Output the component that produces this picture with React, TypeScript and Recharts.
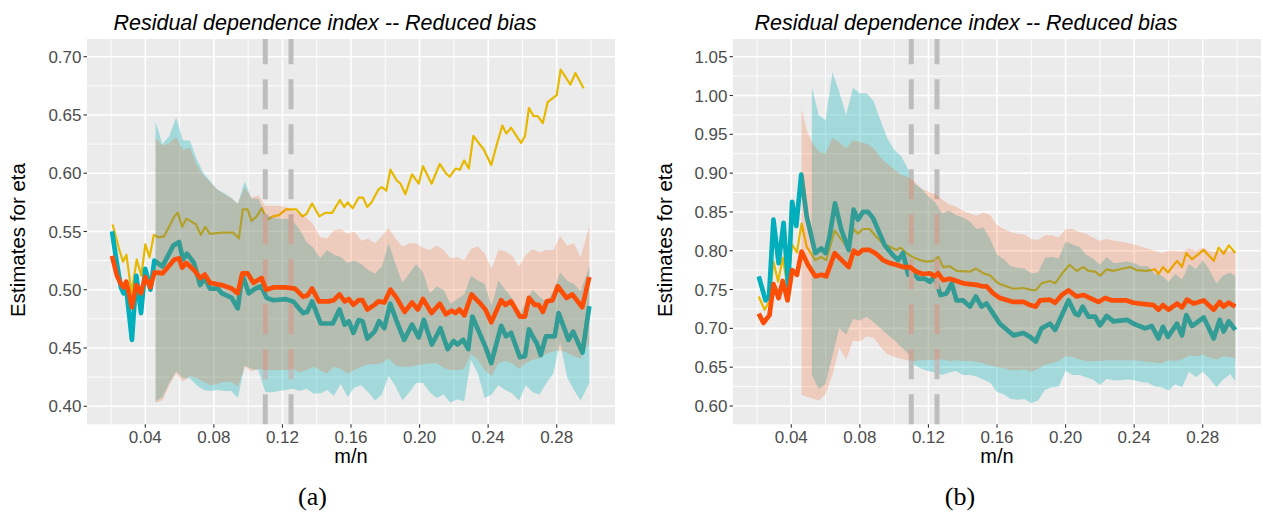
import { Area, CartesianGrid, ComposedChart, Line, ReferenceLine, XAxis, YAxis } from 'recharts';

const FONT = '"Liberation Sans", Arial, sans-serif';
const TITLE = 'Residual dependence index -- Reduced bias';

const X_MAJOR = [0.04, 0.08, 0.12, 0.16, 0.2, 0.24, 0.28];
const X_MINOR = [0.02, 0.06, 0.1, 0.14, 0.18, 0.22, 0.26, 0.3];
const A_Y_MAJOR = [0.4, 0.45, 0.5, 0.55, 0.6, 0.65, 0.7];
const A_Y_MINOR = [0.425, 0.475, 0.525, 0.575, 0.625, 0.675];
const B_Y_MAJOR = [0.6, 0.65, 0.7, 0.75, 0.8, 0.85, 0.9, 0.95, 1.0, 1.05];
const B_Y_MINOR = [0.625, 0.675, 0.725, 0.775, 0.825, 0.875, 0.925, 0.975, 1.025];
const CUTS = [0.11, 0.125];

// ---- panel (a) ----
const A_YEL_X = [0.021, 0.0245, 0.027, 0.029, 0.032, 0.035, 0.0377, 0.04, 0.0425, 0.045, 0.0476, 0.051, 0.057, 0.059, 0.0615, 0.064, 0.0696, 0.0724, 0.075, 0.0777, 0.0846, 0.0915, 0.0946, 0.0969, 0.0997, 0.102, 0.105, 0.108, 0.111, 0.1147, 0.118, 0.122, 0.128, 0.1316, 0.134, 0.1373, 0.1415, 0.145, 0.149, 0.1535, 0.156, 0.158, 0.161, 0.1644, 0.167, 0.1695, 0.172, 0.176, 0.178, 0.1806, 0.183, 0.1866, 0.1889, 0.1917, 0.1956, 0.1995, 0.202, 0.207, 0.2118, 0.2153, 0.2176, 0.221, 0.2235, 0.226, 0.2287, 0.2314, 0.2344, 0.2372, 0.2418, 0.2453, 0.2483, 0.2506, 0.2534, 0.2592, 0.2615, 0.2638, 0.2665, 0.269, 0.2719, 0.2747, 0.28, 0.2823, 0.288, 0.2909, 0.2957];
const A_YEL_Y = [0.556, 0.536, 0.524, 0.53, 0.497, 0.526, 0.512, 0.539, 0.528, 0.547, 0.545, 0.546, 0.563, 0.566, 0.554, 0.561, 0.556, 0.547, 0.554, 0.548, 0.549, 0.549, 0.544, 0.569, 0.569, 0.559, 0.563, 0.57, 0.56, 0.563, 0.564, 0.569, 0.569, 0.563, 0.565, 0.574, 0.563, 0.566, 0.566, 0.577, 0.571, 0.575, 0.57, 0.579, 0.579, 0.571, 0.575, 0.586, 0.588, 0.585, 0.603, 0.594, 0.591, 0.582, 0.599, 0.591, 0.606, 0.591, 0.608, 0.6, 0.597, 0.604, 0.603, 0.611, 0.604, 0.632, 0.626, 0.621, 0.607, 0.626, 0.641, 0.634, 0.639, 0.626, 0.632, 0.656, 0.649, 0.649, 0.643, 0.661, 0.667, 0.689, 0.676, 0.686, 0.673];

const A_TEAL_X = [0.0206, 0.0235, 0.0258, 0.0273, 0.0289, 0.0322, 0.0348, 0.0375, 0.04, 0.043, 0.0453, 0.05, 0.0564, 0.0597, 0.062, 0.0643, 0.0684, 0.072, 0.0747, 0.0777, 0.0823, 0.0846, 0.0904, 0.0939, 0.0966, 0.1003, 0.1042, 0.1077, 0.1108, 0.1147, 0.1216, 0.1262, 0.132, 0.1345, 0.1373, 0.1424, 0.1494, 0.1533, 0.1563, 0.1587, 0.1614, 0.1644, 0.1667, 0.1695, 0.1737, 0.1764, 0.1794, 0.1829, 0.1864, 0.191, 0.1956, 0.1995, 0.2025, 0.2072, 0.2122, 0.2164, 0.2198, 0.2221, 0.2254, 0.2284, 0.2308, 0.2349, 0.2384, 0.2418, 0.2476, 0.2504, 0.2534, 0.2585, 0.2615, 0.2638, 0.2667, 0.2684, 0.2707, 0.2737, 0.2788, 0.2811, 0.2869, 0.2896, 0.295, 0.299];
const A_TEAL_Y = [0.55, 0.522, 0.502, 0.497, 0.501, 0.457, 0.512, 0.48, 0.518, 0.5, 0.525, 0.52, 0.538, 0.541, 0.526, 0.531, 0.523, 0.504, 0.51, 0.501, 0.501, 0.497, 0.493, 0.484, 0.513, 0.497, 0.501, 0.503, 0.493, 0.491, 0.492, 0.49, 0.48, 0.481, 0.49, 0.471, 0.471, 0.483, 0.47, 0.473, 0.463, 0.474, 0.473, 0.458, 0.464, 0.473, 0.467, 0.488, 0.474, 0.457, 0.47, 0.459, 0.474, 0.453, 0.467, 0.449, 0.456, 0.453, 0.457, 0.449, 0.477, 0.463, 0.451, 0.437, 0.469, 0.46, 0.463, 0.442, 0.443, 0.466, 0.458, 0.454, 0.444, 0.46, 0.46, 0.48, 0.457, 0.464, 0.446, 0.486];

const A_ORANGE_X = [0.0206, 0.0235, 0.0258, 0.0273, 0.0289, 0.0322, 0.0348, 0.0375, 0.04, 0.043, 0.0453, 0.05, 0.0535, 0.057, 0.0597, 0.0615, 0.064, 0.0684, 0.072, 0.0747, 0.0777, 0.0846, 0.0904, 0.0939, 0.0966, 0.0997, 0.1031, 0.1078, 0.1105, 0.1147, 0.1216, 0.1274, 0.132, 0.1345, 0.1373, 0.1413, 0.147, 0.15, 0.1533, 0.1563, 0.1587, 0.1614, 0.1644, 0.1667, 0.1695, 0.1737, 0.176, 0.1794, 0.183, 0.1866, 0.1913, 0.1956, 0.199, 0.202, 0.207, 0.2118, 0.2153, 0.2187, 0.221, 0.2233, 0.2261, 0.2303, 0.2349, 0.2384, 0.2418, 0.2476, 0.25, 0.2534, 0.2585, 0.2615, 0.2638, 0.2672, 0.2695, 0.2719, 0.2742, 0.2776, 0.2806, 0.2857, 0.2891, 0.2949, 0.299];
const A_ORANGE_Y = [0.529, 0.512, 0.505, 0.502, 0.507, 0.485, 0.504, 0.497, 0.511, 0.502, 0.515, 0.514, 0.52, 0.526, 0.527, 0.519, 0.523, 0.517, 0.51, 0.513, 0.506, 0.504, 0.501, 0.497, 0.514, 0.514, 0.506, 0.51, 0.5, 0.502, 0.502, 0.501, 0.494, 0.495, 0.501, 0.49, 0.49, 0.491, 0.496, 0.49, 0.492, 0.487, 0.491, 0.491, 0.483, 0.487, 0.49, 0.489, 0.5, 0.493, 0.481, 0.489, 0.483, 0.492, 0.48, 0.488, 0.479, 0.482, 0.48, 0.483, 0.478, 0.496, 0.489, 0.483, 0.472, 0.491, 0.487, 0.49, 0.477, 0.477, 0.493, 0.487, 0.487, 0.481, 0.49, 0.491, 0.503, 0.493, 0.496, 0.485, 0.511];

const A_BAND_X = [0.046, 0.05, 0.054, 0.058, 0.062, 0.066, 0.07, 0.074, 0.078, 0.082, 0.086, 0.09, 0.094, 0.098, 0.102, 0.106, 0.11, 0.114, 0.118, 0.122, 0.126, 0.13, 0.134, 0.138, 0.142, 0.146, 0.15, 0.154, 0.158, 0.162, 0.166, 0.17, 0.174, 0.178, 0.182, 0.186, 0.19, 0.194, 0.198, 0.202, 0.206, 0.21, 0.214, 0.218, 0.222, 0.226, 0.23, 0.234, 0.238, 0.242, 0.246, 0.25, 0.254, 0.258, 0.262, 0.266, 0.27, 0.274, 0.278, 0.282, 0.286, 0.29, 0.294, 0.299];
const A_TEAL_HI = [0.644, 0.625, 0.632, 0.648, 0.628, 0.628, 0.612, 0.6, 0.593, 0.586, 0.583, 0.579, 0.574, 0.593, 0.578, 0.578, 0.565, 0.562, 0.561, 0.561, 0.559, 0.552, 0.541, 0.536, 0.527, 0.534, 0.53, 0.528, 0.523, 0.525, 0.522, 0.517, 0.514, 0.52, 0.54, 0.522, 0.506, 0.514, 0.522, 0.515, 0.497, 0.503, 0.5, 0.488, 0.492, 0.496, 0.512, 0.508, 0.505, 0.486, 0.508, 0.5, 0.493, 0.477, 0.49, 0.5, 0.494, 0.489, 0.499, 0.515, 0.508, 0.505, 0.499, 0.52];
const A_TEAL_LO = [0.404, 0.408, 0.42, 0.43, 0.424, 0.424, 0.418, 0.414, 0.413, 0.414, 0.413, 0.413, 0.407, 0.435, 0.432, 0.431, 0.412, 0.412, 0.413, 0.414, 0.415, 0.413, 0.415, 0.411, 0.411, 0.414, 0.409, 0.419, 0.408, 0.416, 0.418, 0.412, 0.405, 0.41, 0.426, 0.417, 0.405, 0.412, 0.42, 0.42, 0.412, 0.407, 0.41, 0.403, 0.406, 0.404, 0.44, 0.428, 0.407, 0.41, 0.418, 0.414, 0.411, 0.405, 0.418, 0.412, 0.41, 0.42, 0.428, 0.455, 0.425, 0.414, 0.405, 0.42];
const A_SAL_HI = [0.63, 0.624, 0.626, 0.631, 0.62, 0.622, 0.607, 0.598, 0.592, 0.586, 0.582, 0.579, 0.574, 0.588, 0.579, 0.581, 0.572, 0.572, 0.572, 0.571, 0.568, 0.565, 0.562, 0.556, 0.545, 0.544, 0.551, 0.552, 0.548, 0.55, 0.542, 0.544, 0.54, 0.546, 0.553, 0.544, 0.537, 0.54, 0.54, 0.536, 0.534, 0.538, 0.534, 0.527, 0.528, 0.525, 0.535, 0.537, 0.531, 0.518, 0.534, 0.533, 0.529, 0.52, 0.53, 0.535, 0.532, 0.534, 0.534, 0.546, 0.538, 0.54, 0.528, 0.555];
const A_SAL_LO = [0.403, 0.405, 0.418, 0.428, 0.421, 0.426, 0.424, 0.421, 0.418, 0.419, 0.421, 0.421, 0.417, 0.434, 0.43, 0.432, 0.431, 0.431, 0.431, 0.431, 0.432, 0.429, 0.431, 0.434, 0.431, 0.428, 0.434, 0.432, 0.428, 0.431, 0.434, 0.436, 0.436, 0.437, 0.441, 0.435, 0.434, 0.434, 0.435, 0.436, 0.437, 0.437, 0.433, 0.431, 0.431, 0.432, 0.445, 0.44, 0.431, 0.426, 0.437, 0.439, 0.437, 0.432, 0.437, 0.44, 0.441, 0.445, 0.447, 0.448, 0.446, 0.443, 0.441, 0.455];

// ---- panel (b) ----
const B_YEL_X = [0.021, 0.0244, 0.027, 0.0296, 0.0323, 0.035, 0.0378, 0.0405, 0.0433, 0.046, 0.049, 0.054, 0.0575, 0.0604, 0.0653, 0.0731, 0.0764, 0.0789, 0.0818, 0.0857, 0.0896, 0.0935, 0.0974, 0.1013, 0.1037, 0.1072, 0.1107, 0.115, 0.1188, 0.1228, 0.1257, 0.1286, 0.1325, 0.1364, 0.1442, 0.1477, 0.152, 0.156, 0.1607, 0.1695, 0.1754, 0.1793, 0.1826, 0.186, 0.1909, 0.1939, 0.1978, 0.2023, 0.2065, 0.2104, 0.2133, 0.2172, 0.2201, 0.224, 0.2279, 0.2376, 0.2415, 0.2474, 0.2523, 0.2542, 0.2568, 0.2597, 0.265, 0.2679, 0.2704, 0.2737, 0.2806, 0.2864, 0.2893, 0.2922, 0.2952, 0.299];
const B_YEL_Y = [0.741, 0.724, 0.734, 0.786, 0.76, 0.791, 0.754, 0.808, 0.798, 0.835, 0.805, 0.788, 0.792, 0.788, 0.826, 0.803, 0.828, 0.822, 0.828, 0.828, 0.818, 0.809, 0.805, 0.801, 0.804, 0.797, 0.792, 0.788, 0.786, 0.787, 0.792, 0.779, 0.78, 0.774, 0.773, 0.777, 0.771, 0.768, 0.758, 0.751, 0.752, 0.75, 0.749, 0.758, 0.761, 0.758, 0.77, 0.782, 0.774, 0.779, 0.774, 0.773, 0.768, 0.776, 0.774, 0.779, 0.775, 0.774, 0.776, 0.77, 0.779, 0.772, 0.787, 0.779, 0.797, 0.789, 0.801, 0.787, 0.804, 0.796, 0.807, 0.797];

const B_TEAL_X = [0.021, 0.025, 0.027, 0.0296, 0.0326, 0.0355, 0.0382, 0.0405, 0.0429, 0.0458, 0.049, 0.054, 0.0575, 0.06, 0.0623, 0.0655, 0.0692, 0.0735, 0.0764, 0.0789, 0.0818, 0.0848, 0.0877, 0.0945, 0.0994, 0.1023, 0.1052, 0.1082, 0.111, 0.114, 0.1179, 0.1208, 0.1237, 0.127, 0.1305, 0.1335, 0.1364, 0.1403, 0.1442, 0.1477, 0.151, 0.1539, 0.1578, 0.1617, 0.1695, 0.1754, 0.1793, 0.1826, 0.186, 0.1909, 0.1939, 0.1978, 0.2017, 0.2056, 0.2075, 0.21, 0.2133, 0.2172, 0.2201, 0.224, 0.2279, 0.2358, 0.2397, 0.2464, 0.2503, 0.2542, 0.2568, 0.2597, 0.265, 0.2679, 0.2704, 0.2737, 0.2806, 0.2864, 0.2899, 0.2922, 0.2952, 0.299];
const B_TEAL_Y = [0.767, 0.736, 0.741, 0.84, 0.784, 0.836, 0.754, 0.863, 0.832, 0.898, 0.844, 0.797, 0.803, 0.797, 0.818, 0.861, 0.827, 0.801, 0.853, 0.84, 0.85, 0.85, 0.842, 0.807, 0.794, 0.788, 0.797, 0.769, 0.773, 0.764, 0.764, 0.76, 0.767, 0.743, 0.745, 0.758, 0.736, 0.736, 0.728, 0.741, 0.728, 0.732, 0.719, 0.706, 0.691, 0.694, 0.689, 0.683, 0.7, 0.706, 0.698, 0.717, 0.736, 0.719, 0.717, 0.728, 0.715, 0.715, 0.704, 0.716, 0.709, 0.711, 0.706, 0.7, 0.703, 0.687, 0.702, 0.689, 0.706, 0.691, 0.717, 0.703, 0.714, 0.687, 0.711, 0.696, 0.709, 0.698];

const B_ORANGE_X = [0.021, 0.0238, 0.0273, 0.0296, 0.0326, 0.035, 0.0378, 0.0405, 0.0433, 0.046, 0.0497, 0.054, 0.0575, 0.0604, 0.0653, 0.0735, 0.0764, 0.0789, 0.0818, 0.0857, 0.0896, 0.0935, 0.0974, 0.1013, 0.1052, 0.1091, 0.113, 0.1169, 0.1208, 0.1237, 0.1257, 0.1286, 0.1325, 0.1364, 0.1403, 0.1442, 0.1481, 0.152, 0.1539, 0.1578, 0.1617, 0.1695, 0.1754, 0.1793, 0.1826, 0.1851, 0.1909, 0.1939, 0.1978, 0.2017, 0.2065, 0.2104, 0.2143, 0.2192, 0.2231, 0.227, 0.2356, 0.2396, 0.2474, 0.2513, 0.2542, 0.2568, 0.2601, 0.265, 0.2679, 0.2708, 0.2747, 0.2806, 0.2864, 0.2899, 0.2922, 0.2952, 0.299];
const B_ORANGE_Y = [0.719, 0.707, 0.717, 0.757, 0.739, 0.761, 0.736, 0.775, 0.769, 0.799, 0.782, 0.767, 0.769, 0.767, 0.797, 0.779, 0.8, 0.796, 0.801, 0.801, 0.796, 0.788, 0.784, 0.782, 0.779, 0.779, 0.773, 0.77, 0.771, 0.767, 0.771, 0.762, 0.764, 0.761, 0.758, 0.757, 0.756, 0.754, 0.754, 0.745, 0.739, 0.734, 0.734, 0.73, 0.728, 0.736, 0.737, 0.733, 0.743, 0.749, 0.741, 0.743, 0.739, 0.734, 0.739, 0.736, 0.736, 0.733, 0.731, 0.73, 0.724, 0.73, 0.724, 0.732, 0.727, 0.737, 0.732, 0.736, 0.724, 0.734, 0.728, 0.733, 0.728];

const B_BAND_X = [0.046, 0.049, 0.052, 0.056, 0.06, 0.064, 0.068, 0.072, 0.076, 0.08, 0.084, 0.088, 0.092, 0.096, 0.1, 0.104, 0.108, 0.112, 0.116, 0.12, 0.124, 0.128, 0.132, 0.136, 0.14, 0.144, 0.148, 0.152, 0.156, 0.16, 0.164, 0.168, 0.172, 0.176, 0.18, 0.184, 0.188, 0.192, 0.196, 0.2, 0.204, 0.208, 0.212, 0.216, 0.22, 0.224, 0.228, 0.232, 0.236, 0.24, 0.244, 0.248, 0.252, 0.256, 0.26, 0.264, 0.268, 0.272, 0.276, 0.28, 0.284, 0.288, 0.292, 0.296, 0.299];
const B_TEAL_HI = [null, null, 1.011, 0.975, 0.968, 1.03, 1.005, 0.975, 1.01, 1.003, 1.003, 0.993, 0.968, 0.945, 0.93, 0.922, 0.906, 0.886, 0.88, 0.87, 0.862, 0.848, 0.852, 0.846, 0.843, 0.838, 0.828, 0.83, 0.815, 0.795, 0.789, 0.78, 0.778, 0.777, 0.771, 0.772, 0.791, 0.792, 0.79, 0.812, 0.808, 0.805, 0.795, 0.79, 0.782, 0.792, 0.784, 0.785, 0.786, 0.784, 0.78, 0.78, 0.77, 0.768, 0.76, 0.77, 0.763, 0.783, 0.776, 0.788, 0.775, 0.758, 0.768, 0.772, 0.767];
const B_TEAL_LO = [null, null, 0.64, 0.622, 0.628, 0.665, 0.7, 0.692, 0.712, 0.71, 0.715, 0.708, 0.7, 0.692, 0.685, 0.676, 0.668, 0.652, 0.648, 0.645, 0.643, 0.64, 0.643, 0.645, 0.64, 0.64, 0.638, 0.634, 0.63, 0.618, 0.615, 0.609, 0.608, 0.609, 0.604, 0.607, 0.621, 0.624, 0.625, 0.645, 0.64, 0.64, 0.637, 0.634, 0.627, 0.635, 0.633, 0.633, 0.634, 0.633, 0.631, 0.63, 0.625, 0.624, 0.62, 0.628, 0.624, 0.644, 0.637, 0.644, 0.635, 0.624, 0.634, 0.641, 0.632];
const B_SAL_HI = [0.983, 0.955, 0.94, 0.928, 0.925, 0.945, 0.94, 0.932, 0.942, 0.94, 0.938, 0.932, 0.92, 0.912, 0.905, 0.898, 0.895, 0.889, 0.88, 0.876, 0.873, 0.866, 0.86, 0.857, 0.852, 0.848, 0.845, 0.849, 0.846, 0.833, 0.828, 0.824, 0.822, 0.821, 0.815, 0.814, 0.82, 0.82, 0.817, 0.828, 0.828, 0.824, 0.822, 0.817, 0.813, 0.815, 0.813, 0.812, 0.81, 0.808, 0.805, 0.803, 0.8, 0.797, 0.8, 0.8, 0.799, 0.803, 0.8, 0.804, 0.8, 0.798, 0.801, 0.8, 0.799];
const B_SAL_LO = [0.614, 0.612, 0.61, 0.607, 0.615, 0.64, 0.675, 0.66, 0.684, 0.683, 0.69, 0.688, 0.676, 0.667, 0.663, 0.661, 0.659, 0.658, 0.659, 0.659, 0.66, 0.66, 0.658, 0.659, 0.658, 0.658, 0.657, 0.655, 0.652, 0.65, 0.649, 0.646, 0.646, 0.647, 0.644, 0.648, 0.653, 0.655, 0.658, 0.664, 0.663, 0.66, 0.658, 0.658, 0.658, 0.659, 0.659, 0.659, 0.659, 0.659, 0.658, 0.657, 0.656, 0.655, 0.659, 0.658, 0.66, 0.665, 0.664, 0.666, 0.662, 0.66, 0.664, 0.663, 0.661];

type Pt = { x: number; y: number };
type Band = { x: number; r: [number, number] | null };

const pts = (xs: number[], ys: number[]): Pt[] => xs.map((x, i) => ({ x, y: ys[i] }));
const band = (xs: number[], lo: (number | null)[], hi: (number | null)[]): Band[] =>
  xs.map((x, i) => ({ x, r: lo[i] == null || hi[i] == null ? null : [lo[i] as number, hi[i] as number] }));

const TICK = { fill: '#4D4D4D', fontSize: 17, fontFamily: FONT };
const fmt = (v: number) => v.toFixed(2);

type PanelProps = {
  left: number;
  yAxisWidth: number;
  right: number;
  yDomain: [number, number];
  yMajor: number[];
  yMinor: number[];
  yellow: Pt[];
  teal: Pt[];
  orange: Pt[];
  tealBand: Band[];
  salmonBand: Band[];
};

function Panel(p: PanelProps) {
  return (
    <div style={{ position: 'absolute', left: p.left, top: 0 }}>
      <ComposedChart width={630} height={516} margin={{ top: 39, right: p.right, bottom: 51.7, left: 0 }}>
        <CartesianGrid fill="#EBEBEB" stroke="#FFFFFF" strokeWidth={0.9} verticalValues={X_MINOR} horizontalValues={p.yMinor} />
        <CartesianGrid stroke="#FFFFFF" strokeWidth={1.6} verticalValues={X_MAJOR} horizontalValues={p.yMajor} />
        <XAxis
          dataKey="x"
          type="number"
          domain={[0.006, 0.314]}
          allowDataOverflow
          ticks={X_MAJOR}
          tickFormatter={fmt}
          axisLine={false}
          tickLine={{ stroke: '#333333', strokeWidth: 1.1 }}
          tickSize={3.5}
          tickMargin={3}
          height={40}
          tick={TICK}
        />
        <YAxis
          type="number"
          domain={p.yDomain}
          allowDataOverflow
          ticks={p.yMajor}
          tickFormatter={fmt}
          axisLine={false}
          tickLine={{ stroke: '#333333', strokeWidth: 1.1 }}
          tickSize={3.5}
          tickMargin={2}
          width={p.yAxisWidth}
          tick={TICK}
        />
        <Line data={p.yellow} dataKey="y" stroke="#E7B800" strokeWidth={2.2} strokeLinejoin="round" dot={false} activeDot={false} isAnimationActive={false} zIndex={101} />
        <Line data={p.teal} dataKey="y" stroke="#00AFBB" strokeWidth={4.7} strokeLinejoin="round" dot={false} activeDot={false} isAnimationActive={false} zIndex={102} />
        <Area data={p.tealBand} dataKey="r" type="linear" stroke="none" fill="#00AFBB" fillOpacity={0.3} dot={false} activeDot={false} isAnimationActive={false} zIndex={103} />
        {CUTS.map((c) => (
          <ReferenceLine key={c} x={c} stroke="#BDBDBD" strokeWidth={5} strokeDasharray="30 15" zIndex={104} />
        ))}
        <Area data={p.salmonBand} dataKey="r" type="linear" stroke="none" fill="#FC4E07" fillOpacity={0.2} dot={false} activeDot={false} isAnimationActive={false} zIndex={105} />
        <Line data={p.orange} dataKey="y" stroke="#FC4E07" strokeWidth={4.7} strokeLinejoin="round" dot={false} activeDot={false} isAnimationActive={false} zIndex={106} />
      </ComposedChart>
    </div>
  );
}

export default function App() {
  return (
    <div style={{ position: 'absolute', left: 0, top: 0, width: 1263, height: 516, background: '#FFFFFF', overflow: 'hidden' }}>
      <Panel
        left={0}
        yAxisWidth={87}
        right={15}
        yDomain={[0.3845, 0.7152]}
        yMajor={A_Y_MAJOR}
        yMinor={A_Y_MINOR}
        yellow={pts(A_YEL_X, A_YEL_Y)}
        teal={pts(A_TEAL_X, A_TEAL_Y)}
        orange={pts(A_ORANGE_X, A_ORANGE_Y)}
        tealBand={band(A_BAND_X, A_TEAL_LO, A_TEAL_HI)}
        salmonBand={band(A_BAND_X, A_SAL_LO, A_SAL_HI)}
      />
      <Panel
        left={633}
        yAxisWidth={100}
        right={2}
        yDomain={[0.5764, 1.0728]}
        yMajor={B_Y_MAJOR}
        yMinor={B_Y_MINOR}
        yellow={pts(B_YEL_X, B_YEL_Y)}
        teal={pts(B_TEAL_X, B_TEAL_Y)}
        orange={pts(B_ORANGE_X, B_ORANGE_Y)}
        tealBand={band(B_BAND_X, B_TEAL_LO, B_TEAL_HI)}
        salmonBand={band(B_BAND_X, B_SAL_LO, B_SAL_HI)}
      />
      <svg width={1263} height={516} style={{ position: 'absolute', left: 0, top: 0, pointerEvents: 'none' }}>
        <g fontFamily={FONT} fill="#000000">
          <text x={325} y={29.5} fontSize={21.5} fontStyle="italic" textAnchor="middle">{TITLE}</text>
          <text x={966} y={29.5} fontSize={21.5} fontStyle="italic" textAnchor="middle">{TITLE}</text>
          <text x={351} y={463} fontSize={20} textAnchor="middle">m/n</text>
          <text x={997} y={463} fontSize={20} textAnchor="middle">m/n</text>
          <text transform="translate(25 240) rotate(-90)" fontSize={20.5} textAnchor="middle">Estimates for eta</text>
          <text transform="translate(672 240) rotate(-90)" fontSize={20.5} textAnchor="middle">Estimates for eta</text>
        </g>
        <g fontFamily="serif" fill="#000000" fontSize={26}>
          <text x={312.5} y={505} textAnchor="middle">(a)</text>
          <text x={960} y={505} textAnchor="middle">(b)</text>
        </g>
      </svg>
    </div>
  );
}
